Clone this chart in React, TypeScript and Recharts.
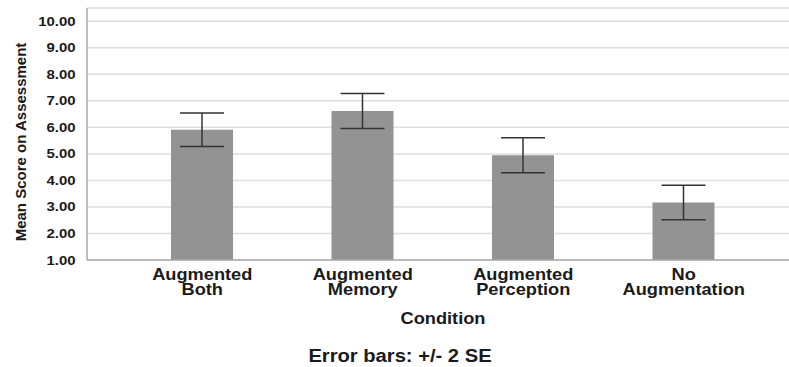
import React from 'react';
import { BarChart, Bar, XAxis, YAxis, CartesianGrid, ErrorBar } from 'recharts';

const conditions = ['Augmented Both', 'Augmented Memory', 'Augmented Perception', 'No Augmentation'];
const meanScores = [5.91, 6.62, 4.95, 3.17];
const twoSE = [0.63, 0.66, 0.66, 0.65];
const yTicks = [1, 2, 3, 4, 5, 6, 7, 8, 9, 10];

const data = conditions.map((c, i) => ({ condition: c, mean: meanScores[i], err: twoSE[i] }));

const FONT = '"Liberation Sans", Arial, sans-serif';

const YTick = (props: any) => {
  const { x, y, payload } = props;
  return (
    <g transform={`translate(${x},${y}) scale(1.15,1)`}>
      <text x={-3} y={0} dy={4.5} textAnchor="end" fontFamily={FONT} fontWeight="bold" fontSize={13} fill="#1a1a1a">
        {Number(payload.value).toFixed(2)}
      </text>
    </g>
  );
};

const XTick = (props: any) => {
  const { x, y, payload } = props;
  const words = String(payload.value).split(' ');
  return (
    <g transform={`translate(${x},${y}) scale(1.14,1)`}>
      <text textAnchor="middle" fontFamily={FONT} fontWeight="bold" fontSize={16} fill="#1a1a1a">
        <tspan x={0} y={20}>{words[0]}</tspan>
        <tspan x={0} y={35}>{words.slice(1).join(' ')}</tspan>
      </text>
    </g>
  );
};

const YLabel = (props: any) => {
  const vb = props.viewBox || { y: 8, height: 252 };
  const cy = vb.y + vb.height / 2;
  return (
    <text
      x={0}
      y={0}
      transform={`translate(26,${cy + 8}) rotate(-90)`}
      textAnchor="middle"
      fontFamily={FONT}
      fontWeight="bold"
      fontSize={15}
      fill="#1a1a1a"
    >
      Mean Score on Assessment
    </text>
  );
};

const XLabel = () => (
  <g transform="translate(443,324) scale(1.14,1)">
    <text x={0} y={0} textAnchor="middle" fontFamily={FONT} fontWeight="bold" fontSize={16} fill="#1a1a1a">
      Condition
    </text>
  </g>
);

export default function App() {
  return (
    <div style={{ position: 'absolute', left: 0, top: 0, width: 789, height: 367, background: '#fff' }}>
      <BarChart width={789} height={367} data={data} margin={{ top: 8, right: 0, left: 0, bottom: 0 }}>
        <CartesianGrid vertical={false} stroke="#dedede" strokeWidth={1.5} />
        <YAxis
          width={87}
          domain={[1, 10.5]}
          ticks={yTicks}
          interval={0}
          tickLine={false}
          axisLine={{ stroke: '#a8a8a8', strokeWidth: 1.5 }}
          tick={<YTick />}
          label={<YLabel />}
        />
        <XAxis
          dataKey="condition"
          height={107}
          padding={{ left: 35, right: 25 }}
          tickLine={false}
          tickSize={0}
          tickMargin={0}
          interval={0}
          axisLine={{ stroke: '#a8a8a8', strokeWidth: 1.5 }}
          tick={<XTick />}
          label={<XLabel />}
        />
        <Bar dataKey="mean" fill="#939393" barSize={62} isAnimationActive={false}>
          <ErrorBar dataKey="err" width={22} stroke="#333" strokeWidth={1.5} direction="y" />
        </Bar>
      </BarChart>
      <div
        style={{
          position: 'absolute',
          left: 0,
          top: 347,
          width: 800,
          textAlign: 'center',
          fontFamily: FONT,
          fontWeight: 'bold',
          fontSize: 18,
          lineHeight: '18px',
          color: '#1a1a1a',
          transform: 'scaleX(1.12)',
        }}
      >
        Error bars: +/- 2 SE
      </div>
    </div>
  );
}
